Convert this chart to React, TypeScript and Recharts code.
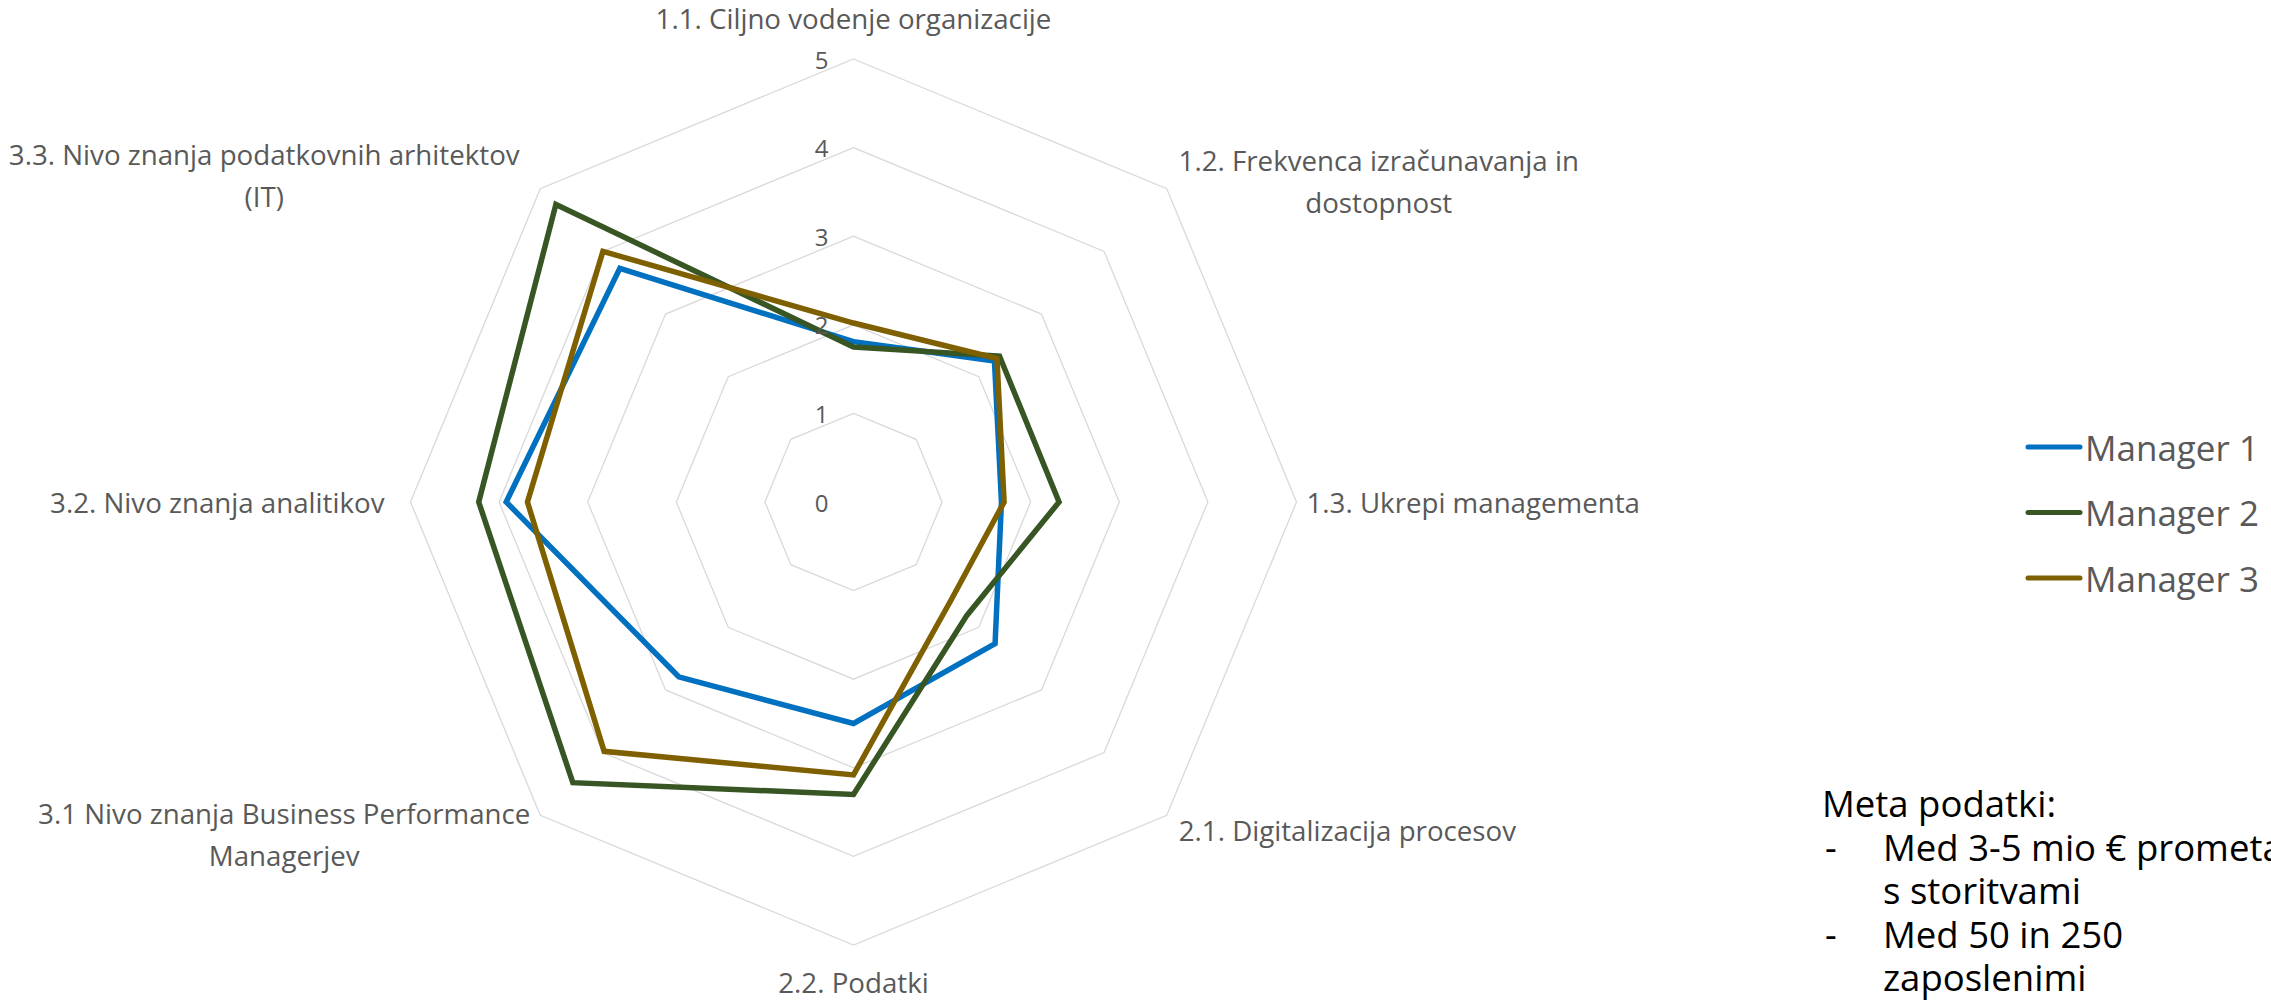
import { RadarChart, Radar, PolarGrid, PolarAngleAxis, PolarRadiusAxis, Legend } from 'recharts'

// axis labels, already split where the original wraps them
const axisLabels = [
  ['1.1. Ciljno vodenje organizacije'],
  ['1.2. Frekvenca izračunavanja in', 'dostopnost'],
  ['1.3. Ukrepi managementa'],
  ['2.1. Digitalizacija procesov'],
  ['2.2. Podatki'],
  ['3.1 Nivo znanja Business Performance', 'Managerjev'],
  ['3.2. Nivo znanja analitikov'],
  ['3.3. Nivo znanja podatkovnih arhitektov', '(IT)'],
]
const categories = axisLabels.map(l => l.join(' '))

const manager1 = [1.81, 2.25, 1.67, 2.26, 2.5, 2.79, 3.92, 3.73]
const manager2 = [1.75, 2.33, 2.32, 1.81, 3.3, 4.48, 4.23, 4.75]
const manager3 = [2.02, 2.29, 1.7, 1.56, 3.08, 3.98, 3.68, 4.0]

const seriesNames = ['Manager 1', 'Manager 2', 'Manager 3']
const radiusTicks = [0, 1, 2, 3, 4, 5]

const metaTitle = 'Meta podatki:'
const metaItems = [
  ['Med 3-5 mio € prometa', 's storitvami'],
  ['Med 50 in 250', 'zaposlenimi'],
]

const data = categories.map((c, i) => ({
  axis: c,
  m1: manager1[i],
  m2: manager2[i],
  m3: manager3[i],
}))

const W = 2271
const H = 1004
const CX = 853.5
const CY = 502
const R = 443
const FONT = '"Open Sans", "Noto Sans", sans-serif'
const GREY = '#595959'
const COLORS = ['#0070C0', '#375623', '#7F6000']

// label offsets from the outer vertex of each spoke (first-line baseline)
const labelLayout = [
  { dx: 0, dy: -30, anchor: 'middle' },
  { dx: 212, dy: -18, anchor: 'middle' },
  { dx: 10, dy: 11, anchor: 'start' },
  { dx: 12, dy: 26, anchor: 'start' },
  { dx: 0, dy: 48, anchor: 'middle' },
  { dx: -256, dy: 9, anchor: 'middle' },
  { dx: -26, dy: 11, anchor: 'end' },
  { dx: -276, dy: -24, anchor: 'middle' },
]

const AngleTick = (props: any) => {
  const i = categories.indexOf(props.payload?.value)
  if (i < 0) return null
  const rad = ((90 - (i * 360) / categories.length) * Math.PI) / 180
  const vx = CX + R * Math.cos(rad)
  const vy = CY - R * Math.sin(rad)
  const lay = labelLayout[i]
  const x = vx + lay.dx
  return (
    <text x={x} y={vy + lay.dy} textAnchor={lay.anchor} fill={GREY} fontSize={27.7} fontFamily={FONT}>
      {axisLabels[i].map((line, k) => (
        <tspan key={k} x={x} dy={k === 0 ? 0 : 42}>
          {line}
        </tspan>
      ))}
    </text>
  )
}

const RadiusTick = (props: any) => {
  const { x, y, payload } = props
  return (
    <text x={x - 32} y={y} textAnchor="middle" dominantBaseline="central" fill={GREY} fontSize={24} fontFamily={FONT}>
      {payload.value}
    </text>
  )
}

const LegendBox = () => (
  <svg width={245} height={200}>
    {seriesNames.map((n, i) => {
      const y = 22 + i * 65.5
      return (
        <g key={n}>
          <line x1={4} x2={56} y1={y} y2={y} stroke={COLORS[i]} strokeWidth={5} strokeLinecap="round" />
          <text x={61} y={y} dominantBaseline="central" fill={GREY} fontSize={35} fontFamily={FONT}>
            {n}
          </text>
        </g>
      )
    })}
  </svg>
)

export default function App() {
  return (
    <div style={{ position: 'fixed', left: 0, top: 0, width: W, height: H, overflow: 'hidden', background: '#fff' }}>
      <RadarChart
        width={W}
        height={H}
        data={data}
        cx={CX}
        cy={CY}
        outerRadius={R}
        startAngle={90}
        endAngle={-270}
        margin={{ top: 0, right: 0, bottom: 0, left: 0 }}
      >
        <PolarGrid gridType="polygon" radialLines={false} stroke="#d9d9d9" strokeWidth={1.3} />
        <PolarAngleAxis dataKey="axis" tick={AngleTick} axisLine={false} tickLine={false} />
        <PolarRadiusAxis
          angle={90}
          domain={[0, 5]}
          ticks={radiusTicks as any}
          tickCount={6}
          axisLine={false}
          tick={RadiusTick}
        />
        <Radar name={seriesNames[0]} dataKey="m1" stroke={COLORS[0]} strokeWidth={5.5} fill="none" fillOpacity={0} dot={false} isAnimationActive={false} />
        <Radar name={seriesNames[1]} dataKey="m2" stroke={COLORS[1]} strokeWidth={5.5} fill="none" fillOpacity={0} dot={false} isAnimationActive={false} />
        <Radar name={seriesNames[2]} dataKey="m3" stroke={COLORS[2]} strokeWidth={5.5} fill="none" fillOpacity={0} dot={false} isAnimationActive={false} />
        <Legend
          content={LegendBox}
          wrapperStyle={{ position: 'absolute', left: 2024, top: 425, width: 245, height: 200 }}
        />
      </RadarChart>

      <div
        style={{
          position: 'absolute',
          left: 1822,
          top: 782,
          fontFamily: FONT,
          fontSize: 36.5,
          lineHeight: '43.6px',
          color: '#000',
          whiteSpace: 'nowrap',
        }}
      >
        <div>{metaTitle}</div>
        {metaItems.map((item, i) => (
          <div key={i} style={{ position: 'relative', paddingLeft: 61 }}>
            <span style={{ position: 'absolute', left: 3 }}>-</span>
            {item.map((line, k) => (
              <div key={k}>{line}</div>
            ))}
          </div>
        ))}
      </div>
    </div>
  )
}
